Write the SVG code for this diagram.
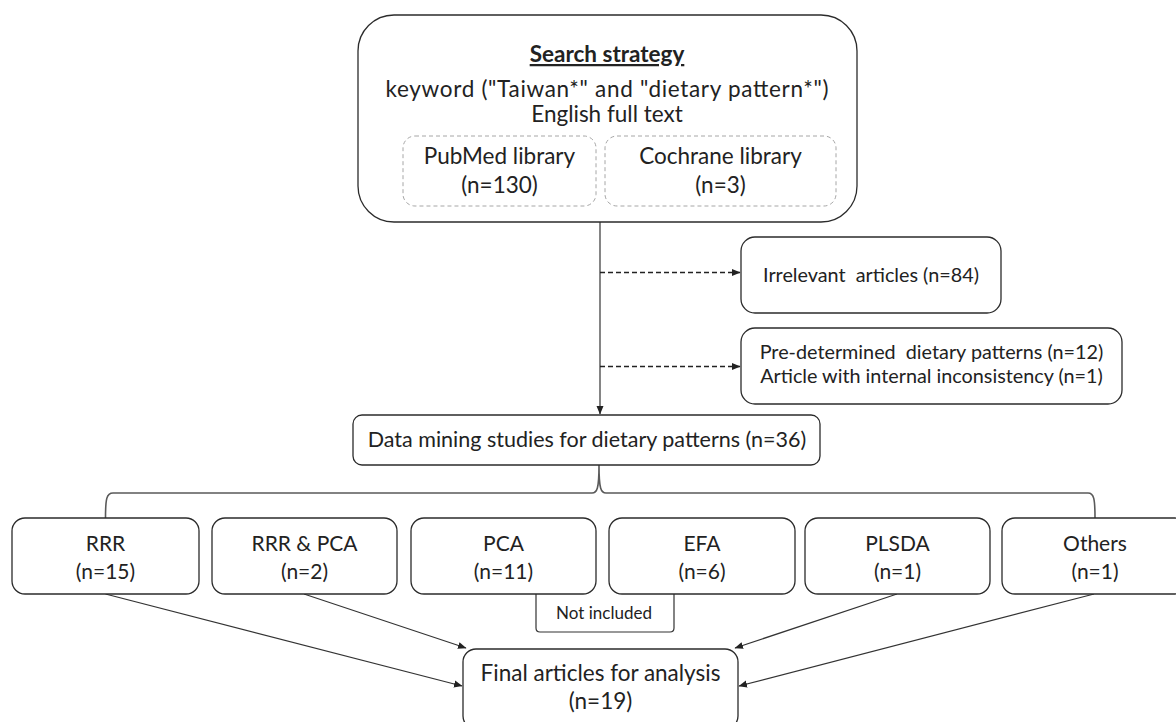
<svg xmlns="http://www.w3.org/2000/svg" width="1176" height="722" viewBox="0 0 1176 722">
  <style>
    .box { fill: #ffffff; stroke: #2b2b2b; stroke-width: 1.3; }
    .inner { fill: none; stroke: #a6a6a6; stroke-width: 1; stroke-dasharray: 4 3; }
    .t { font-family: Lato, "Open Sans", "Liberation Sans", sans-serif; fill: #222222; text-anchor: middle; white-space: pre; }
    .xl { font-size: 22.5px; }
    .lg { font-size: 21.5px; }
    .md { font-size: 21px; }
    .sm { font-size: 19.8px; }
    .xs { font-size: 17px; }
    .line { fill: none; stroke: #333333; stroke-width: 1.2; }
    .dash { fill: none; stroke: #222222; stroke-width: 1.4; stroke-dasharray: 5 3; }
    .brace { fill: none; stroke: #5a5a5a; stroke-width: 1.6; }
  </style>
  <defs>
    <marker id="arrow" markerWidth="9" markerHeight="9" refX="8" refY="4.5" orient="auto" markerUnits="userSpaceOnUse">
      <path d="M0,1 L8.5,4.5 L0,8 Z" fill="#222222"/>
    </marker>
  </defs>
  <rect width="1176" height="722" fill="#ffffff"/>

  <!-- connectors -->
  <g id="connectors">
    <path class="line" d="M600,222 V414" marker-end="url(#arrow)"/>
    <path class="dash" d="M600,272.5 H740" marker-end="url(#arrow)"/>
    <path class="dash" d="M600,366.5 H740" marker-end="url(#arrow)"/>
    <path class="brace" d="M105.5,518 C105.5,499 106.5,493 113,493 H592 C597,493 599,489 599,465 C599,489 601,493 606,493 H1088 C1094,493 1095,499 1095,518"/>
    <path class="line" d="M536,594 V628 Q536,632 540,632 H670 Q674,632 674,628 V594"/>
    <path class="line" d="M105.5,594 L462,686" marker-end="url(#arrow)"/>
    <path class="line" d="M304,594 L466,648" marker-end="url(#arrow)"/>
    <path class="line" d="M897,594 L735,648" marker-end="url(#arrow)"/>
    <path class="line" d="M1094,594 L739,686" marker-end="url(#arrow)"/>
  </g>

  <g id="search">
    <rect class="box" x="358" y="15" width="499" height="207" rx="36"/>
    <text class="t xl" x="607" y="62" font-weight="bold" text-decoration="underline">Search strategy</text>
    <text class="t xl" x="607" y="97" textLength="443" lengthAdjust="spacing">keyword ("Taiwan*" and "dietary pattern*")</text>
    <text class="t xl" x="607" y="122">English full text</text>
  </g>
  <g id="pubmed">
    <rect class="inner" x="403" y="136" width="193" height="70" rx="12"/>
    <text class="t xl" x="499.5" y="164">PubMed library</text>
    <text class="t xl" x="499.5" y="193">(n=130)</text>
  </g>
  <g id="cochrane">
    <rect class="inner" x="605" y="136" width="231" height="70" rx="12"/>
    <text class="t xl" x="720.5" y="164">Cochrane library</text>
    <text class="t xl" x="720.5" y="193">(n=3)</text>
  </g>

  <g id="irrelevant">
    <rect class="box" x="741" y="237" width="260" height="76" rx="14"/>
    <text class="t sm" x="871" y="282">Irrelevant  articles (n=84)</text>
  </g>
  <g id="excluded">
    <rect class="box" x="741" y="328" width="381" height="76" rx="14"/>
    <text class="t sm" x="931.5" y="359">Pre-determined  dietary patterns (n=12)</text>
    <text class="t sm" x="931.5" y="383">Article with internal inconsistency (n=1)</text>
  </g>

  <g id="datamining">
    <rect class="box" x="353" y="415" width="467" height="50" rx="9"/>
    <text class="t lg" x="587" y="447">Data mining studies for dietary patterns (n=36)</text>
  </g>

  <g id="rrr">
    <rect class="box" x="12" y="518" width="187" height="76" rx="13"/>
    <text class="t md" x="105.5" y="551">RRR</text>
    <text class="t md" x="105.5" y="579">(n=15)</text>
  </g>
  <g id="rrr-pca">
    <rect class="box" x="212" y="518" width="185" height="76" rx="13"/>
    <text class="t md" x="304.5" y="551">RRR &amp; PCA</text>
    <text class="t md" x="304.5" y="579">(n=2)</text>
  </g>
  <g id="pca">
    <rect class="box" x="411" y="518" width="185" height="76" rx="13"/>
    <text class="t md" x="503.5" y="551">PCA</text>
    <text class="t md" x="503.5" y="579">(n=11)</text>
  </g>
  <g id="efa">
    <rect class="box" x="609" y="518" width="186" height="76" rx="13"/>
    <text class="t md" x="702" y="551">EFA</text>
    <text class="t md" x="702" y="579">(n=6)</text>
  </g>
  <g id="plsda">
    <rect class="box" x="805" y="518" width="185" height="76" rx="13"/>
    <text class="t md" x="897.5" y="551">PLSDA</text>
    <text class="t md" x="897.5" y="579">(n=1)</text>
  </g>
  <g id="others">
    <rect class="box" x="1002" y="518" width="186" height="76" rx="13"/>
    <text class="t md" x="1095" y="551">Others</text>
    <text class="t md" x="1095" y="579">(n=1)</text>
  </g>

  <g id="not-included">
    <text class="t xs" x="604" y="619">Not included</text>
  </g>

  <g id="final">
    <rect class="box" x="463" y="649" width="275" height="80" rx="13"/>
    <text class="t xl" x="600.5" y="681">Final articles for analysis</text>
    <text class="t xl" x="600.5" y="709">(n=19)</text>
  </g>
</svg>
